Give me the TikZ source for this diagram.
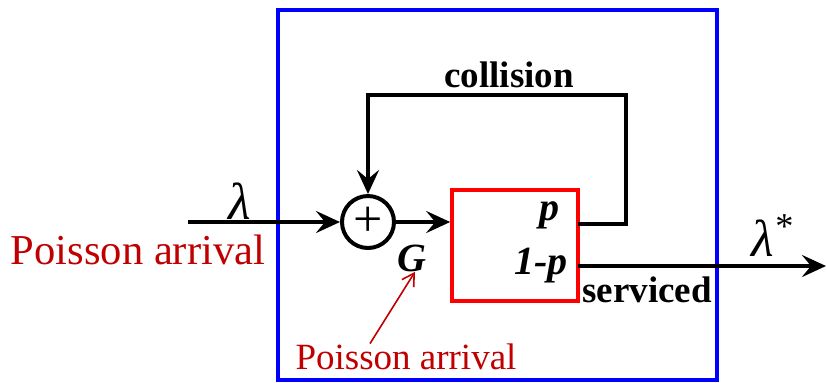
\documentclass[tikz,border=0pt]{standalone}
\usepackage{fontspec}
\setmainfont{Liberation Serif}
\usetikzlibrary{arrows.meta,positioning}
\definecolor{arrivalred}{RGB}{192,0,0}

\begin{document}
\begin{tikzpicture}[x=0.5pt, y=-0.5pt, >={Stealth[length=12pt,width=11pt,inset=4.5pt]},
  flow/.style={->, line width=2pt},
  tag/.style={inner sep=0pt, font=\fontsize{18.5}{20}\selectfont\bfseries},
  prob/.style={inner sep=0pt, font=\fontsize{20}{22}\selectfont\bfseries\itshape},
  rate/.style={inner sep=0pt, font=\fontsize{26}{28}\selectfont\itshape},
  arrival/.style={inner sep=0pt, text=arrivalred}]
  \useasboundingbox (0,0) rectangle (827,382);
  % system frame
  \draw[blue, line width=2pt] (278,10) rectangle (717,380);
  % adder and server
  \node[circle, draw, line width=2pt, minimum size=26pt, inner sep=0pt,
    font=\fontsize{26}{28}\selectfont] (sum) at (368,222) {+};
  \node[draw=red, line width=1.8pt, minimum width=63pt, minimum height=55.5pt] (srv) at (515,245.5) {};
  \coordinate (inp) at (188,222);
  \coordinate (pout) at (578,224);
  \coordinate (qout) at (578,266);
  \coordinate (fbk) at (626,95);
  \coordinate (outp) at (826,266);
  % labels
  \node[rate] (lam) at (240,201) {λ};
  \node[rate] (lamst) at (772,236) {λ\textsuperscript{*}};
  \node[arrival, font=\fontsize{21.3}{24}\selectfont] (inpa) at (138,250) {Poisson arrival};
  \node[arrival, font=\fontsize{18.5}{20}\selectfont] (lowpa) at (406,357) {Poisson arrival};
  \node[prob] (G) at (412,258) {G};
  \node[prob] (p) at (549,215) {p};
  \node[prob] (q) at (541,266) {1-p};
  \node[tag] (coll) at (509,75) {collision};
  \node[tag] (serv) at (647,290) {serviced};
  % connectors
  \draw[flow] (inp) -- (sum);
  \draw[flow] (sum.east) -- (sum.east -| srv.west);
  \draw[flow] (pout) -| (fbk) -| (sum.north);
  \draw[flow] (qout) -- (outp);
  \draw[arrivalred, line width=0.8pt, -{Straight Barb[length=6pt,width=7pt]}]
    ([xshift=-18pt]lowpa.north) -- ([xshift=1.5pt]G.south);
\end{tikzpicture}
\end{document}
